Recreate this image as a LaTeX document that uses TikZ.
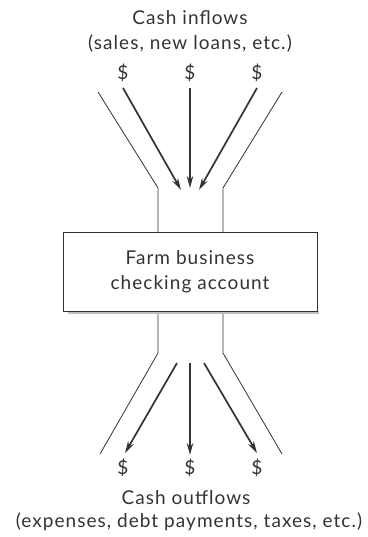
\documentclass[tikz,border=0pt]{standalone}
\usepackage{fontspec}
\setmainfont{Lato}[LetterSpace=5.5]
\usetikzlibrary{arrows.meta}
\definecolor{ink}{HTML}{333333}
\begin{document}
\begin{tikzpicture}[x=1pt,y=-1pt,
  label/.style={text=ink,font=\fontsize{19}{22}\selectfont,inner sep=0pt},
  dollar/.style={text=ink,font=\fontsize{19}{22}\selectfont,inner sep=1pt},
  wall/.style={draw=ink,line width=0.8pt},
  flow/.style={draw=ink,line width=1.7pt,-{Stealth[length=12pt,width=6.5pt]}},
  account/.style={draw=ink,line width=0.9pt,fill=white,minimum width=254pt,minimum height=79pt,
    align=center,text=ink,font=\fontsize{19}{25}\selectfont}]
\useasboundingbox (0,0) rectangle (367,537);
% headings
\node[label] (intitle) at (190,18) {Cash inflows};
\node[label] (insub) at (190,44) {(sales, new loans, etc.)};
\node[label] (outtitle) at (186,498) {Cash outflows};
\node[label] (outsub) at (189,522) {(expenses, debt payments, taxes, etc.)};
% dollar signs
\node[dollar] (d1) at (123,73) {\$};
\node[dollar] (d2) at (190,73) {\$};
\node[dollar] (d3) at (257,73) {\$};
\node[dollar] (e1) at (123,468) {\$};
\node[dollar] (e2) at (190,468) {\$};
\node[dollar] (e3) at (257,468) {\$};
% funnel walls
\draw[wall] (98,92) -- (158,188) -- (158,232);
\draw[wall] (282,92) -- (223,188) -- (223,232);
\draw[wall] (158,311) -- (158,353) -- (100,454);
\draw[wall] (223,311) -- (223,353) -- (282,454);
% account box with a faint shadow
\fill[black!25] (68,311) rectangle (319,314);
\node[account] (acct) at (190,271.5) {Farm business\\checking account};
% inflow arrows
\coordinate (i1s) at (123,88);
\coordinate (i2s) at (190,88);
\coordinate (i3s) at (257,88);
\coordinate (i1e) at (181,190);
\coordinate (i2e) at (190,188);
\coordinate (i3e) at (199,190);
\draw[flow] (i1s) -- (i1e);
\draw[flow] (i2s) -- (i2e);
\draw[flow] (i3s) -- (i3e);
% outflow arrows
\coordinate (o1s) at (177,363);
\coordinate (o2s) at (190,363);
\coordinate (o3s) at (204,363);
\coordinate (o1e) at (125,453);
\coordinate (o2e) at (190,455);
\coordinate (o3e) at (257,453);
\draw[flow] (o1s) -- (o1e);
\draw[flow] (o2s) -- (o2e);
\draw[flow] (o3s) -- (o3e);
\end{tikzpicture}
\end{document}
